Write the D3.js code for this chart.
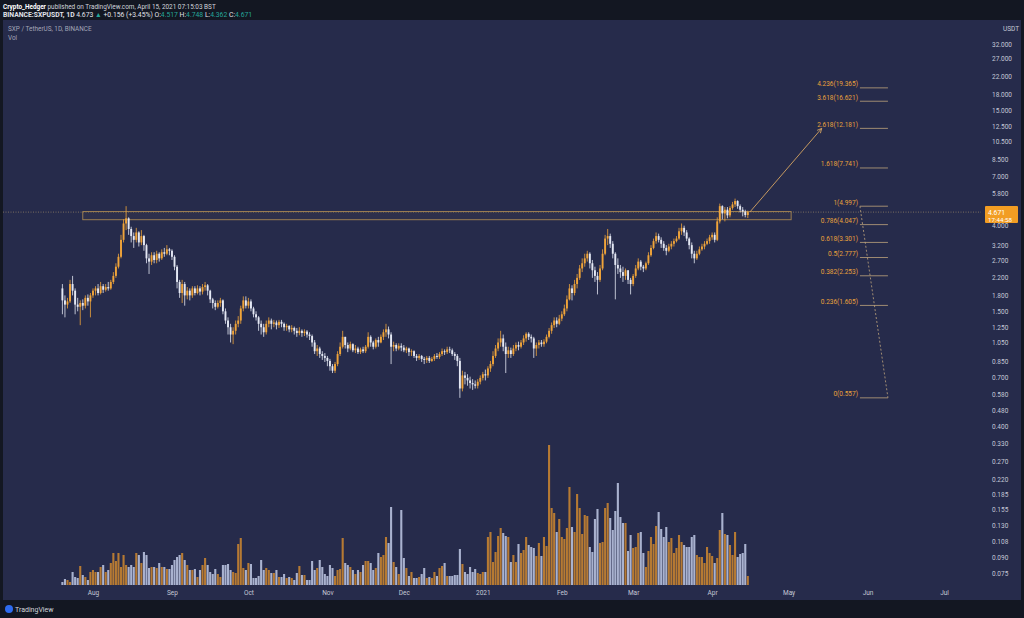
<!DOCTYPE html>
<html>
<head>
<meta charset="utf-8">
<script src="https://cdn.jsdelivr.net/npm/d3@7"></script>
<style>
    body { margin: 0; background: #131722; }
    svg { display: block; font-family: Roboto, "Liberation Sans", sans-serif; }
</style>
</head>
<body>
<svg id="chart" width="1024" height="618"></svg>
<script>
// daily candles SXP/USDT, Binance, from 2020-07-20 to 2021-04-15
var startDate = new Date(Date.UTC(2020, 6, 20));
var firstOpen = 1.95;

var closes = [
    // jul
    1.70, 1.62, 1.68, 2.05, 1.90, 1.62, 1.58, 1.65, 1.60, 1.75, 1.68, 1.80,
    // aug
    1.90, 1.95, 1.85, 2.00, 1.92, 1.98, 1.95, 2.10, 2.25, 2.50, 2.80, 3.40, 4.10, 4.35, 3.85, 3.55,
    3.40, 3.70, 3.30, 3.55, 3.20, 2.75, 2.65, 2.85, 2.70, 2.90, 2.75, 2.95, 2.90, 3.05, 3.00,
    // sep
    2.80, 2.50, 2.10, 1.85, 2.05, 1.80, 1.90, 1.80, 1.95, 1.85, 1.95, 1.88, 1.98, 2.02, 1.90,
    1.72, 1.65, 1.58, 1.65, 1.70, 1.50, 1.35, 1.25, 1.15, 1.20, 1.30, 1.35, 1.55, 1.70, 1.60,
    // oct
    1.68, 1.55, 1.45, 1.40, 1.30, 1.25, 1.18, 1.30, 1.35, 1.30, 1.32, 1.28, 1.33, 1.30, 1.25, 1.27,
    1.22, 1.24, 1.20, 1.17, 1.20, 1.17, 1.19, 1.15, 1.13, 1.05, 0.95, 0.98, 0.92, 0.90, 0.88,
    // nov
    0.85, 0.80, 0.76, 0.82, 0.92, 1.00, 1.12, 1.02, 0.98, 1.03, 0.96, 0.98, 0.94, 0.97, 0.95,
    1.00, 1.12, 1.05, 1.00, 1.08, 1.05, 1.12, 1.18, 1.22, 1.15, 1.00, 1.02, 0.98, 1.01, 0.99,
    // dec
    0.96, 0.98, 0.94, 0.95, 0.90, 0.88, 0.90, 0.87, 0.86, 0.88, 0.85, 0.87, 0.90, 0.89, 0.92, 0.95,
    0.94, 0.97, 0.96, 0.92, 0.90, 0.85, 0.62, 0.72, 0.70, 0.68, 0.66, 0.65, 0.64, 0.67, 0.70,
    // jan
    0.73, 0.72, 0.78, 0.82, 0.90, 0.98, 1.05, 1.10, 1.00, 0.92, 0.96, 0.92, 0.98, 1.02, 1.00, 1.05,
    1.10, 1.16, 1.12, 1.10, 0.98, 1.02, 1.05, 1.03, 1.06, 1.12, 1.20, 1.28, 1.35, 1.30, 1.38,
    // feb
    1.45, 1.55, 1.72, 1.95, 1.85, 2.05, 2.20, 2.45, 2.60, 2.75, 2.90, 2.60, 2.40, 2.25,
    2.15, 2.45, 2.90, 3.45, 3.55, 3.25, 2.90, 2.55, 2.45, 2.35, 2.25, 2.40, 2.15, 2.05,
    // mar
    2.25, 2.45, 2.65, 2.50, 2.45, 2.60, 2.85, 3.10, 3.35, 3.55, 3.40, 3.25, 3.10, 3.00, 3.15, 3.25,
    3.35, 3.45, 3.75, 3.90, 3.70, 3.45, 3.20, 2.90, 2.75, 2.90, 3.05, 3.15, 3.25, 3.35, 3.50,
    // apr
    3.60, 3.40, 4.20, 5.00, 4.60, 4.80, 4.50, 4.90, 5.10, 5.30, 5.00, 4.80, 4.70, 4.517, 4.671
];

var highs = [
    2.05, 1.80, 1.75, 2.15, 2.25, 1.95, 1.75, 1.70, 1.72, 1.80, 1.82, 1.85,
    1.95, 2.00, 2.05, 2.10, 2.05, 2.05, 2.10, 2.15, 2.35, 2.60, 2.90, 3.60, 4.30, 5.00, 4.40, 3.95,
    3.70, 3.90, 3.75, 3.80, 3.60, 3.25, 2.90, 2.95, 2.95, 3.00, 2.95, 3.05, 3.10, 3.20, 3.10,
    3.05, 2.85, 2.55, 2.15, 2.15, 2.10, 1.98, 1.95, 2.00, 2.00, 2.02, 2.00, 2.05, 2.10, 2.05,
    1.92, 1.75, 1.70, 1.70, 1.75, 1.72, 1.55, 1.40, 1.30, 1.25, 1.35, 1.42, 1.60, 1.78, 1.78,
    1.75, 1.72, 1.58, 1.50, 1.42, 1.35, 1.30, 1.35, 1.40, 1.38, 1.36, 1.35, 1.36, 1.36, 1.32, 1.30,
    1.28, 1.28, 1.26, 1.24, 1.25, 1.22, 1.22, 1.21, 1.18, 1.15, 1.08, 1.02, 1.00, 0.95, 0.93,
    0.90, 0.87, 0.82, 0.84, 0.95, 1.05, 1.20, 1.12, 1.05, 1.06, 1.04, 1.02, 1.00, 0.99, 1.00,
    1.02, 1.18, 1.14, 1.07, 1.10, 1.12, 1.15, 1.22, 1.30, 1.26, 1.18, 1.06, 1.04, 1.04, 1.04,
    1.02, 1.00, 0.99, 0.97, 0.96, 0.92, 0.92, 0.91, 0.89, 0.90, 0.90, 0.89, 0.92, 0.93, 0.94, 0.98,
    0.97, 1.00, 1.00, 0.98, 0.94, 0.92, 0.88, 0.76, 0.75, 0.73, 0.71, 0.69, 0.68, 0.69, 0.72,
    0.75, 0.77, 0.80, 0.85, 0.95, 1.02, 1.10, 1.20, 1.15, 1.05, 1.00, 0.99, 1.02, 1.05, 1.06, 1.08,
    1.14, 1.18, 1.18, 1.15, 1.12, 1.05, 1.08, 1.08, 1.09, 1.15, 1.24, 1.32, 1.40, 1.40, 1.44,
    1.50, 1.62, 1.80, 2.05, 2.02, 2.15, 2.30, 2.55, 2.75, 2.90, 3.00, 2.95, 2.70, 2.50,
    2.35, 2.55, 3.05, 3.60, 3.85, 3.65, 3.35, 2.95, 2.75, 2.55, 2.50, 2.45, 2.40, 2.20,
    2.30, 2.55, 2.75, 2.70, 2.55, 2.65, 2.95, 3.20, 3.45, 3.70, 3.65, 3.50, 3.35, 3.20, 3.25, 3.35,
    3.45, 3.55, 3.90, 4.10, 4.00, 3.80, 3.50, 3.30, 3.00, 3.00, 3.15, 3.25, 3.35, 3.45, 3.60,
    3.70, 3.70, 4.40, 5.15, 5.05, 4.95, 4.95, 5.00, 5.25, 5.45, 5.35, 5.10, 4.95, 4.80, 4.748
];

var lows = [
    1.45, 1.40, 1.55, 1.65, 1.80, 1.45, 1.50, 1.28, 1.52, 1.55, 1.60, 1.40,
    1.75, 1.80, 1.80, 1.82, 1.85, 1.88, 1.90, 1.92, 2.05, 2.20, 2.45, 2.75, 3.30, 3.80, 3.60, 3.30,
    3.10, 3.30, 3.15, 3.20, 3.00, 2.60, 2.30, 2.55, 2.60, 2.60, 2.65, 2.70, 2.80, 2.85, 2.85,
    2.70, 2.40, 1.95, 1.75, 1.65, 1.60, 1.72, 1.70, 1.75, 1.80, 1.82, 1.80, 1.82, 1.90, 1.80,
    1.65, 1.55, 1.52, 1.55, 1.58, 1.45, 1.30, 1.15, 1.05, 1.03, 1.15, 1.25, 1.30, 1.50, 1.55,
    1.55, 1.50, 1.40, 1.35, 1.20, 1.15, 1.12, 1.15, 1.25, 1.22, 1.25, 1.22, 1.24, 1.25, 1.20, 1.20,
    1.18, 1.18, 1.15, 1.12, 1.14, 1.12, 1.13, 1.11, 1.08, 1.00, 0.92, 0.90, 0.88, 0.86, 0.84,
    0.80, 0.76, 0.74, 0.74, 0.80, 0.90, 0.98, 0.98, 0.94, 0.96, 0.94, 0.93, 0.92, 0.92, 0.93,
    0.93, 0.98, 1.00, 0.97, 0.98, 1.00, 1.04, 1.08, 1.12, 1.10, 0.82, 0.95, 0.95, 0.96, 0.95,
    0.94, 0.93, 0.90, 0.90, 0.88, 0.85, 0.86, 0.84, 0.82, 0.83, 0.83, 0.84, 0.85, 0.87, 0.87, 0.90,
    0.91, 0.92, 0.93, 0.90, 0.86, 0.80, 0.557, 0.60, 0.65, 0.64, 0.62, 0.61, 0.62, 0.62, 0.65,
    0.68, 0.68, 0.70, 0.75, 0.80, 0.88, 0.95, 1.00, 0.95, 0.74, 0.88, 0.88, 0.90, 0.95, 0.96, 0.98,
    1.02, 1.06, 1.08, 1.05, 0.88, 0.90, 0.98, 1.00, 1.00, 1.04, 1.10, 1.16, 1.24, 1.25, 1.28,
    1.34, 1.42, 1.50, 1.70, 1.70, 1.80, 1.95, 2.15, 2.35, 2.50, 2.65, 2.45, 2.20, 2.10,
    1.82, 2.10, 2.40, 2.85, 3.20, 3.10, 2.75, 1.72, 2.30, 2.20, 2.10, 2.15, 2.05, 1.82,
    2.00, 2.20, 2.40, 2.40, 2.35, 2.40, 2.55, 2.80, 3.05, 3.25, 3.30, 3.10, 3.00, 2.85, 2.95, 3.05,
    3.15, 3.30, 3.40, 3.60, 3.55, 3.35, 3.05, 2.75, 2.60, 2.70, 2.85, 3.00, 3.05, 3.20, 3.25,
    3.40, 3.30, 3.35, 4.10, 4.30, 4.20, 4.35, 4.40, 4.80, 4.95, 4.85, 4.65, 4.45, 4.40, 4.362
];

// volume, relative units
var volumes = [
    3, 6, 5, 3, 13, 8, 7, 19, 10, 8, 5, 13,
    15, 13, 13, 18, 20, 13, 15, 22, 32, 24, 32, 18, 30, 20, 18, 20, 18, 32, 30, 22, 33, 30, 17, 18,
    18, 17, 22, 18, 18, 16, 16,
    20, 25, 28, 30, 32, 25, 20, 15, 15, 16, 8, 15, 20, 27, 20, 13, 11, 16, 11, 8, 20, 20, 21, 15,
    13, 12, 41, 47, 17, 15,
    22, 21, 7, 7, 9, 25, 15, 17, 15, 12, 12, 15, 8, 8, 11, 7, 8, 7, 5, 12, 19, 10, 10, 5, 5, 24,
    15, 17, 25, 18, 11,
    9, 20, 17, 9, 15, 16, 47, 22, 20, 18, 15, 11, 15, 13, 20, 24, 24, 22, 15, 17, 32, 28, 30, 48,
    42, 78, 23, 18, 11, 75,
    27, 17, 9, 13, 7, 7, 8, 11, 17, 7, 8, 7, 13, 9, 17, 19, 22, 9, 9, 9, 10, 10, 36, 21, 13, 11,
    18, 13, 16, 12, 11,
    13, 13, 48, 53, 23, 33, 49, 57, 52, 49, 48, 23, 30, 23, 41, 32, 35, 48, 40, 38, 37, 29, 42, 29,
    48, 39, 140, 77, 72, 53, 66,
    48, 46, 57, 98, 58, 53, 91, 77, 51, 70, 69, 38, 33, 66, 76, 42, 43, 77, 82, 67, 55, 74, 102, 68,
    62, 62, 34, 50,
    37, 38, 52, 53, 32, 18, 34, 48, 41, 59, 73, 56, 48, 58, 43, 47, 32, 37, 50, 43, 40, 38, 38, 48,
    50, 30, 28, 28, 22, 38, 32,
    29, 22, 27, 55, 72, 51, 50, 40, 30, 53, 28, 31, 32, 41, 9
];

var priceTicks = [32, 27, 22, 18, 15, 12.5, 10.5, 8.5, 7, 5.8, 4, 3.2, 2.7, 2.2, 1.8, 1.5, 1.25,
    1.05, 0.85, 0.7, 0.58, 0.48, 0.4, 0.33, 0.27, 0.22, 0.185, 0.155, 0.13, 0.108, 0.09, 0.075];

// trend based fib extension drawn on the chart
var fibRatios = ['0', '0.236', '0.382', '0.5', '0.618', '0.786', '1', '1.618', '2.618', '3.618', '4.236'];
var fibPrices = [0.557, 1.605, 2.253, 2.777, 3.301, 4.047, 4.997, 7.741, 12.181, 16.621, 19.365];
var fibStart = new Date(Date.UTC(2021, 4, 29));
var fibEnd = new Date(Date.UTC(2021, 5, 9));

// resistance box, projection arrow and last price
var zoneTop = 4.70, zoneBottom = 4.28;
var zoneStart = new Date(Date.UTC(2020, 6, 28));
var zoneEnd = new Date(Date.UTC(2021, 4, 2));
var arrowTarget = {date: new Date(Date.UTC(2021, 4, 14)), price: 12.181};
var lastPrice = 4.671;

var colors = {
    bg: '#131722', pane: '#262b4b', text: '#c5c8d6',
    up: '#f0a43a', down: '#e4e8f4',
    volUp: '#b67a33', volDown: '#a9b2cf',
    fib: '#e9a23b', fibLine: '#bfa47c'
};

var svg = d3.select('#chart');
var candles = closes.map(function(c, i) {
    return {
        date: d3.utcDay.offset(startDate, i),
        open: i === 0 ? firstOpen : closes[i - 1],
        close: c, high: highs[i], low: lows[i], volume: volumes[i]
    };
});

drawChart();

function drawChart() {
    var pane = {left: 3, top: 20, right: 1021, bottom: 600, axisX: 981};

    var x = d3.scaleUtc()
        .domain([startDate, d3.utcDay.offset(startDate, closes.length - 1)])
        .range([62.4, 62.4 + 2.548 * (closes.length - 1)]);
    var y = d3.scaleLog().domain([32, 0.075]).range([44, 573]);
    var yVol = d3.scaleLinear().domain([0, 140]).range([585, 445]);

    // background and pane
    svg.append('rect').attr('width', 1024).attr('height', 618).attr('fill', colors.bg);
    svg.append('rect')
        .attr('x', pane.left).attr('y', pane.top)
        .attr('width', pane.right - pane.left).attr('height', pane.bottom - pane.top)
        .attr('fill', colors.pane);

    drawHeader();

    // volume bars
    svg.append('g').selectAll('rect')
        .data(candles)
        .enter().append('rect')
            .attr('x', function(d) { return x(d.date) - 1.05; })
            .attr('y', function(d) { return yVol(d.volume); })
            .attr('width', 2.1)
            .attr('height', function(d) { return yVol(0) - yVol(d.volume); })
            .attr('fill', function(d) { return d.close >= d.open ? colors.volUp : colors.volDown; });

    // last price line
    svg.append('line')
        .attr('x1', pane.left).attr('x2', pane.axisX)
        .attr('y1', y(lastPrice)).attr('y2', y(lastPrice))
        .attr('stroke', '#9c8a6a').attr('stroke-width', 0.7)
        .attr('stroke-dasharray', '1,1.5');

    // resistance zone
    svg.append('rect')
        .attr('x', x(zoneStart)).attr('y', y(zoneTop))
        .attr('width', x(zoneEnd) - x(zoneStart))
        .attr('height', y(zoneBottom) - y(zoneTop))
        .attr('fill', 'rgba(200,150,80,0.05)')
        .attr('stroke', '#a78652').attr('stroke-width', 0.9);

    // candles
    var candle = svg.append('g').selectAll('.candle')
        .data(candles)
        .enter().append('g')
            .attr('class', 'candle');

    candle.append('line')
        .attr('x1', function(d) { return x(d.date); })
        .attr('x2', function(d) { return x(d.date); })
        .attr('y1', function(d) { return y(d.high); })
        .attr('y2', function(d) { return y(d.low); })
        .attr('stroke', candleColor)
        .attr('stroke-width', 0.8);

    candle.append('rect')
        .attr('x', function(d) { return x(d.date) - 0.95; })
        .attr('y', function(d) { return y(Math.max(d.open, d.close)); })
        .attr('width', 1.9)
        .attr('height', function(d) { return Math.max(0.8, Math.abs(y(d.open) - y(d.close))); })
        .attr('fill', candleColor);

    // projection arrow
    var last = candles[candles.length - 1];
    var ax1 = x(last.date) + 2, ay1 = y(last.close),
        ax2 = x(arrowTarget.date), ay2 = y(arrowTarget.price);
    svg.append('line')
        .attr('x1', ax1).attr('y1', ay1).attr('x2', ax2).attr('y2', ay2)
        .attr('stroke', '#d6a562').attr('stroke-width', 0.9);
    var ang = Math.atan2(ay2 - ay1, ax2 - ax1);
    svg.append('path')
        .attr('d', 'M' + (ax2 - 5 * Math.cos(ang - 0.45)) + ',' + (ay2 - 5 * Math.sin(ang - 0.45)) +
            'L' + ax2 + ',' + ay2 +
            'L' + (ax2 - 5 * Math.cos(ang + 0.45)) + ',' + (ay2 - 5 * Math.sin(ang + 0.45)))
        .attr('fill', 'none').attr('stroke', '#d6a562').attr('stroke-width', 0.9);

    drawFib(x, y);

    // x axis
    var months = d3.utcMonth.range(new Date(Date.UTC(2020, 7, 1)), new Date(Date.UTC(2021, 7, 1)));
    var axisX = svg.append('g')
        .attr('transform', 'translate(0,587)')
        .call(d3.axisBottom(x)
            .tickValues(months)
            .tickSize(0)
            .tickFormat(function(d) { return d.getUTCMonth() === 0 ? d3.utcFormat('%Y')(d) : d3.utcFormat('%b')(d); }));
    styleAxis(axisX);

    // y axis, log scale shared by price
    var axisY = svg.append('g')
        .attr('transform', 'translate(989,0)')
        .call(d3.axisRight(y)
            .tickValues(priceTicks)
            .tickSize(0)
            .tickFormat(d3.format('.3f')));
    styleAxis(axisY);
    axisY.selectAll('text').attr('x', 3).attr('dy', '0.32em');

    svg.append('text')
        .attr('x', 1003).attr('y', 31)
        .attr('fill', colors.text).attr('font-size', 6.5)
        .text('USDT');

    // last price label
    var ly = y(lastPrice);
    svg.append('rect')
        .attr('x', 985).attr('y', ly - 6).attr('width', 33).attr('height', 17)
        .attr('rx', 1).attr('fill', '#f29d23');
    svg.append('text')
        .attr('x', 988).attr('y', ly + 2.5)
        .attr('fill', '#ffffff').attr('font-size', 6.8)
        .text(d3.format('.3f')(lastPrice));
    svg.append('text')
        .attr('x', 988).attr('y', ly + 9.5)
        .attr('fill', '#ffffff').attr('font-size', 6.2)
        .text('17:44:58');

    // footer logo
    svg.append('circle').attr('cx', 9).attr('cy', 609).attr('r', 4).attr('fill', '#2e6bf0');
    svg.append('text')
        .attr('x', 15).attr('y', 612)
        .attr('fill', '#d1d4dc').attr('font-size', 7)
        .text('TradingView');
}

function candleColor(d) {
    return d.close >= d.open ? colors.up : colors.down;
}

function styleAxis(g) {
    g.select('.domain').remove();
    g.selectAll('text')
        .attr('fill', colors.text)
        .attr('font-size', 6.5)
        .attr('font-family', 'Roboto, "Liberation Sans", sans-serif');
}

function drawFib(x, y) {
    var g = svg.append('g');

    // dashed trend line between the two anchors
    g.append('line')
        .attr('x1', x(fibStart)).attr('y1', y(fibPrices[6]))
        .attr('x2', x(fibEnd)).attr('y2', y(fibPrices[0]))
        .attr('stroke', colors.fibLine).attr('stroke-width', 0.8)
        .attr('stroke-dasharray', '2,2');

    var level = g.selectAll('.level')
        .data(fibPrices)
        .enter().append('g')
            .attr('class', 'level');

    level.append('line')
        .attr('x1', x(fibStart)).attr('x2', x(fibEnd))
        .attr('y1', function(d) { return y(d); })
        .attr('y2', function(d) { return y(d); })
        .attr('stroke', colors.fibLine).attr('stroke-width', 0.8);

    level.append('text')
        .attr('x', x(fibStart) - 2)
        .attr('y', function(d) { return y(d) - 1.5; })
        .attr('text-anchor', 'end')
        .attr('fill', colors.fib)
        .attr('font-size', 6.5)
        .text(function(d, i) { return fibRatios[i] + '(' + d3.format('.3f')(d) + ')'; });
}

function drawHeader() {
    var line1 = svg.append('text')
        .attr('x', 3).attr('y', 8.5)
        .attr('font-size', 6.4).attr('fill', '#d1d4dc');
    line1.append('tspan').attr('font-weight', 'bold').attr('fill', '#ffffff').text('Crypto_Hedger');
    line1.append('tspan').text(' published on TradingView.com, April 15, 2021 07:15:03 BST');

    var line2 = svg.append('text')
        .attr('x', 3).attr('y', 17)
        .attr('font-size', 6.8).attr('fill', '#e0e3eb');
    line2.append('tspan').attr('font-weight', 'bold').text('BINANCE:SXPUSDT, 1D ');
    line2.append('tspan').text('4.673 ');
    line2.append('tspan').attr('fill', '#26a69a').text('\u25B2');
    line2.append('tspan').text(' +0.156 (+3.45%) ');
    [['O:', '4.517'], ['H:', '4.748'], ['L:', '4.362'], ['C:', '4.671']].forEach(function(p) {
        line2.append('tspan').text(p[0]);
        line2.append('tspan').attr('fill', '#26a69a').text(p[1] + ' ');
    });

    svg.append('text')
        .attr('x', 8).attr('y', 31)
        .attr('font-size', 6.4).attr('fill', '#a3a6b8')
        .text('SXP / TetherUS, 1D, BINANCE');
    svg.append('text')
        .attr('x', 8).attr('y', 40)
        .attr('font-size', 6.4).attr('fill', '#a3a6b8')
        .text('Vol');
}
</script>
</body>
</html>
